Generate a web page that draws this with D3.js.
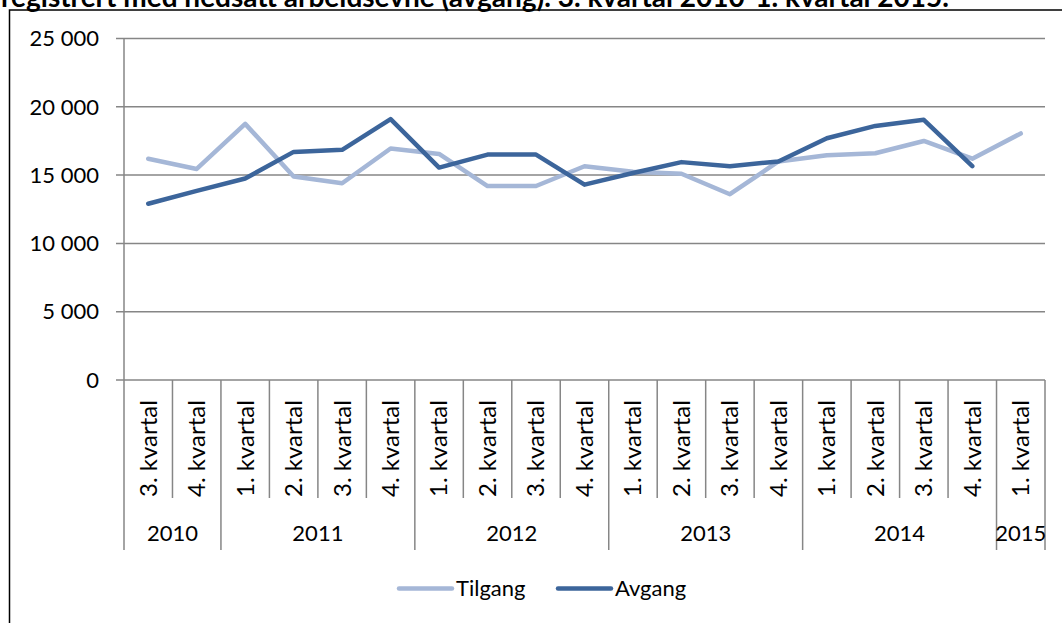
<!DOCTYPE html>
<meta charset="utf-8">
<style>
body { margin: 0; background: #fff; }
text { font-family: Lato, "Open Sans", sans-serif; fill: #000; }
</style>
<svg width="1062" height="623"></svg>
<script src="https://d3js.org/d3.v7.min.js"></script>
<script>
// quarters along the x axis, and the year each one belongs to
var quarters = ["3. kvartal", "4. kvartal",
  "1. kvartal", "2. kvartal", "3. kvartal", "4. kvartal",
  "1. kvartal", "2. kvartal", "3. kvartal", "4. kvartal",
  "1. kvartal", "2. kvartal", "3. kvartal", "4. kvartal",
  "1. kvartal", "2. kvartal", "3. kvartal", "4. kvartal",
  "1. kvartal"];
var years = ["2010", "2011", "2012", "2013", "2014", "2015"];
var quartersPerYear = [2, 4, 4, 4, 4, 1];

var tilgang = [16200, 15450, 18750, 14900, 14400, 16950, 16550, 14200, 14200, 15650,
  15250, 15100, 13600, 16000, 16450, 16600, 17500, 16200, 18050];
var avgang = [12900, 13850, 14750, 16700, 16850, 19100, 15550, 16500, 16500, 14300,
  15150, 15950, 15650, 16000, 17700, 18600, 19050, 15650, null];

var yTicks = [0, 5000, 10000, 15000, 20000, 25000];

var svg = d3.select("svg");
var plotLeft = 124, plotRight = 1045, plotTop = 38.5, plotBottom = 380;

var x = d3.scaleBand().domain(d3.range(quarters.length)).range([plotLeft, plotRight]).padding(0);
var y = d3.scaleLinear().domain([0, 25000]).range([plotBottom, plotTop]);

var fmt = d3.formatLocale({decimal: ",", thousands: "\u00a0", grouping: [3], currency: ["", ""]}).format(",d");

// title (cut off at the top edge)
svg.append("text")
    .attr("x", 1).attr("y", 7)
    .style("font-weight", "bold").style("font-size", "28px")
    .text("registrert med nedsatt arbeidsevne (avgang). 3. kvartal 2010-1. kvartal 2015.");

// frame
svg.append("rect")
    .attr("x", 9.5).attr("y", 10).attr("width", 1100).attr("height", 700)
    .attr("fill", "none").attr("stroke", "#000").attr("stroke-width", 1.5);

// gridlines + y labels
svg.append("g").selectAll("line").data(yTicks).enter().append("line")
    .attr("x1", plotLeft - 8).attr("x2", plotRight)
    .attr("y1", function(d) { return y(d); }).attr("y2", function(d) { return y(d); })
    .attr("stroke", "#868686").attr("stroke-width", 1.5);

svg.append("g").selectAll("text").data(yTicks).enter().append("text")
    .attr("x", 99).attr("y", function(d) { return y(d); })
    .attr("dy", "0.35em").attr("text-anchor", "end")
    .style("font-size", "22px")
    .text(function(d) { return fmt(d); });

// y axis line
svg.append("line")
    .attr("x1", plotLeft).attr("x2", plotLeft).attr("y1", plotTop).attr("y2", plotBottom)
    .attr("stroke", "#868686").attr("stroke-width", 1.5);

// category separators: short for quarters, long for years
var yearStarts = [0];
quartersPerYear.forEach(function(n, i) { yearStarts.push(yearStarts[i] + n); });

var bounds = d3.range(quarters.length + 1);
svg.append("g").selectAll("line").data(bounds).enter().append("line")
    .attr("x1", function(i) { return plotLeft + i * x.step(); })
    .attr("x2", function(i) { return plotLeft + i * x.step(); })
    .attr("y1", plotBottom)
    .attr("y2", function(i) { return yearStarts.indexOf(i) >= 0 ? 550 : 498; })
    .attr("stroke", "#868686").attr("stroke-width", 1.5);

// quarter labels, rotated
svg.append("g").selectAll("text").data(quarters).enter().append("text")
    .attr("transform", function(d, i) {
      return "translate(" + (x(i) + x.bandwidth() / 2) + ",497) rotate(-90)";
    })
    .attr("dy", "0.35em")
    .style("font-size", "24px")
    .text(function(d) { return d; });

// year labels
svg.append("g").selectAll("text").data(years).enter().append("text")
    .attr("x", function(d, i) {
      return plotLeft + (yearStarts[i] + quartersPerYear[i] / 2) * x.step();
    })
    .attr("y", 533).attr("dy", "0.35em").attr("text-anchor", "middle")
    .style("font-size", "22px")
    .text(function(d) { return d; });

// lines
var line = d3.line()
    .defined(function(d) { return d != null; })
    .x(function(d, i) { return x(i) + x.bandwidth() / 2; })
    .y(function(d) { return y(d); });

var series = [
  {name: "Tilgang", values: tilgang, color: "#A5B7D7"},
  {name: "Avgang", values: avgang, color: "#3C659B"}
];

svg.append("g").selectAll("path").data(series).enter().append("path")
    .attr("d", function(d) { return line(d.values); })
    .attr("fill", "none")
    .attr("stroke", function(d) { return d.color; })
    .attr("stroke-width", 4.5)
    .attr("stroke-linejoin", "round")
    .attr("stroke-linecap", "round");

// legend
var legend = svg.append("g").selectAll("g").data(series).enter().append("g")
    .attr("transform", function(d, i) { return "translate(" + (399 + i * 159) + ",588.5)"; });
legend.append("line")
    .attr("x1", 0).attr("x2", 53)
    .attr("stroke", function(d) { return d.color; })
    .attr("stroke-width", 4.5).attr("stroke-linecap", "round");
legend.append("text")
    .attr("x", 57).attr("dy", "0.35em")
    .style("font-size", "22px")
    .text(function(d) { return d.name; });
</script>
